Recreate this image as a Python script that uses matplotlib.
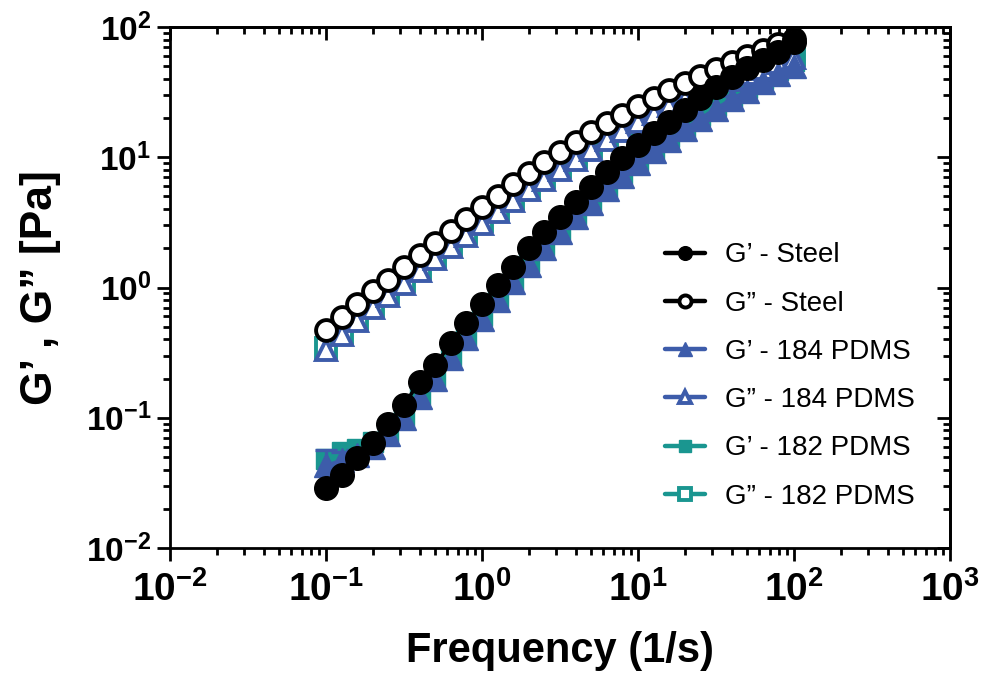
import numpy as np
import matplotlib.pyplot as plt
from matplotlib.ticker import LogLocator, FuncFormatter, NullFormatter

plt.rcParams['font.family'] = ['Liberation Sans', 'DejaVu Sans']
plt.rcParams['mathtext.fontset'] = 'custom'
plt.rcParams['mathtext.rm'] = 'Liberation Sans'
plt.rcParams['mathtext.bf'] = 'Liberation Sans:bold'

# frequency sweep, 10 points per decade, 0.1 - 100 1/s
freq = [0.1, 0.126, 0.158, 0.2, 0.251, 0.316, 0.398, 0.501, 0.631, 0.794,
        1.0, 1.26, 1.58, 2.0, 2.51, 3.16, 3.98, 5.01, 6.31, 7.94,
        10.0, 12.6, 15.8, 20.0, 25.1, 31.6, 39.8, 50.1, 63.1, 79.4, 100.0]

g1_steel = [0.0287, 0.0363, 0.0493, 0.0637, 0.0895, 0.126, 0.189, 0.254, 0.373, 0.531,
            0.746, 1.04, 1.44, 2.0, 2.69, 3.46, 4.56, 5.94, 7.74, 9.8,
            12.4, 15.3, 18.8, 23.1, 28.4, 34.8, 41.6, 48.2, 55.8, 64.7, 77.1]
g2_steel = [0.47, 0.596, 0.75, 0.933, 1.15, 1.43, 1.78, 2.2, 2.7, 3.35,
            4.12, 5.07, 6.21, 7.55, 9.12, 10.96, 13.09, 15.49, 18.2, 21.2,
            24.7, 28.5, 32.7, 37.3, 42.4, 47.9, 53.7, 60.0, 66.7, 73.8, 81.3]
g1_184 = [0.043, 0.047, 0.052, 0.060, 0.075, 0.100, 0.145, 0.200, 0.290, 0.410,
          0.575, 0.80, 1.10, 1.50, 2.00, 2.65, 3.45, 4.45, 5.70, 7.20,
          9.00, 11.1, 13.6, 16.5, 19.8, 23.6, 27.8, 32.5, 37.8, 43.5, 50.0]
g2_184 = [0.33, 0.43, 0.55, 0.69, 0.86, 1.07, 1.33, 1.65, 2.03, 2.50,
          3.10, 3.80, 4.62, 5.6, 6.7, 8.0, 9.6, 11.4, 13.5, 15.9,
          18.6, 21.5, 24.6, 28.0, 31.6, 35.4, 39.4, 43.6, 48.0, 52.6, 58.0]
g1_182 = [0.048, 0.055, 0.058, 0.065, 0.078, 0.104, 0.150, 0.207, 0.30, 0.425,
          0.60, 0.83, 1.14, 1.56, 2.08, 2.75, 3.58, 4.62, 5.9, 7.5,
          9.4, 11.6, 14.2, 17.2, 20.7, 24.6, 29.0, 34.0, 40.0, 46.5, 55.0]
g2_182 = [0.345, 0.45, 0.575, 0.72, 0.90, 1.12, 1.39, 1.72, 2.12, 2.61,
          3.23, 3.96, 4.82, 5.84, 7.0, 8.35, 10.0, 11.9, 14.1, 16.6,
          19.4, 22.4, 25.6, 29.1, 32.9, 36.8, 41.0, 45.4, 50.0, 54.8, 60.5]
# error bars on the first G' points of 184 PDMS
err_184 = [0.014, 0.008, 0.005]

blue = '#3d5caa'
teal = '#1a9690'

fig = plt.figure(figsize=(9.85, 6.76), dpi=100)
ax = fig.add_axes([170/985, 1-548/676, 780/985, 521/676])

kw = dict(lw=2.6, ms=15, mew=2.8)
h6, = ax.plot(freq, g2_182, '-s', color=teal, mfc='white', mec=teal, zorder=2, label='G\u201d - 182 PDMS', **kw)
h5, = ax.plot(freq, g1_182, '-s', color=teal, zorder=2, label='G\u2019 - 182 PDMS', ms=15, lw=2.6)
h4, = ax.plot(freq, g2_184, '-^', color=blue, mfc='white', mec=blue, zorder=3, label='G\u201d - 184 PDMS', **kw)
ax.errorbar(freq[:3], g1_184[:3], yerr=err_184, fmt='none', ecolor=blue, elinewidth=2.4, capsize=8, capthick=2.4, zorder=3)
h3, = ax.plot(freq, g1_184, '-^', color=blue, zorder=3, label='G\u2019 - 184 PDMS', ms=17, lw=2.6)
h2, = ax.plot(freq, g2_steel, '-o', color='black', mfc='white', mec='black', zorder=4, label='G\u201d - Steel', **kw)
h1, = ax.plot(freq, g1_steel, '-o', color='black', zorder=5, label='G\u2019 - Steel', ms=17, lw=2.6)

ax.set_xscale('log')
ax.set_yscale('log')
ax.set_xlim(1e-2, 1e3)
ax.set_ylim(1e-2, 1e2)

fmt = FuncFormatter(lambda v, p: r'$\mathbf{10^{%d}}$' % round(np.log10(v)))
for axis in (ax.xaxis, ax.yaxis):
    axis.set_major_locator(LogLocator(base=10, numticks=10))
    axis.set_minor_locator(LogLocator(base=10, subs=np.arange(2, 10), numticks=10))
    axis.set_major_formatter(fmt)
    axis.set_minor_formatter(NullFormatter())

for s in ax.spines.values():
    s.set_linewidth(2)
ax.tick_params(which='both', direction='out', width=2, top=False, right=False)
ax.tick_params(which='major', length=9.5)
ax.tick_params(which='minor', length=5)
ax.tick_params(axis='x', labelsize=28, pad=7)
ax.tick_params(axis='y', labelsize=24, pad=4)

# mirrored inward ticks on top and right
axt = ax.secondary_xaxis('top')
axr = ax.secondary_yaxis('right')
for a, axis in ((axt, axt.xaxis), (axr, axr.yaxis)):
    axis.set_major_locator(LogLocator(base=10, numticks=10))
    axis.set_minor_locator(LogLocator(base=10, subs=np.arange(2, 10), numticks=10))
    axis.set_major_formatter(NullFormatter())
    axis.set_minor_formatter(NullFormatter())
    a.spines[:].set_linewidth(2)
    a.tick_params(which='both', direction='in', width=2)
    a.tick_params(which='major', length=9.5)
    a.tick_params(which='minor', length=5)

ax.set_xlabel('Frequency (1/s)', fontsize=30, fontweight='bold', labelpad=16)
ax.set_ylabel('G\u2019 , G\u201d [Pa]', fontsize=32, fontweight='bold', labelpad=18)

leg = ax.legend(handles=[h1, h2, h3, h4, h5, h6], loc='center left',
                bbox_to_anchor=(665/985, 1-376/676), bbox_transform=fig.transFigure,
                frameon=False, fontsize=20, markerscale=0.58, handlelength=1.45,
                handletextpad=0.7, labelspacing=0.8, borderpad=0, borderaxespad=0)
for line in leg.get_lines():
    line.set_linewidth(3.2)
    line.set_solid_capstyle('round')

fig.savefig('out.png', dpi=100)
